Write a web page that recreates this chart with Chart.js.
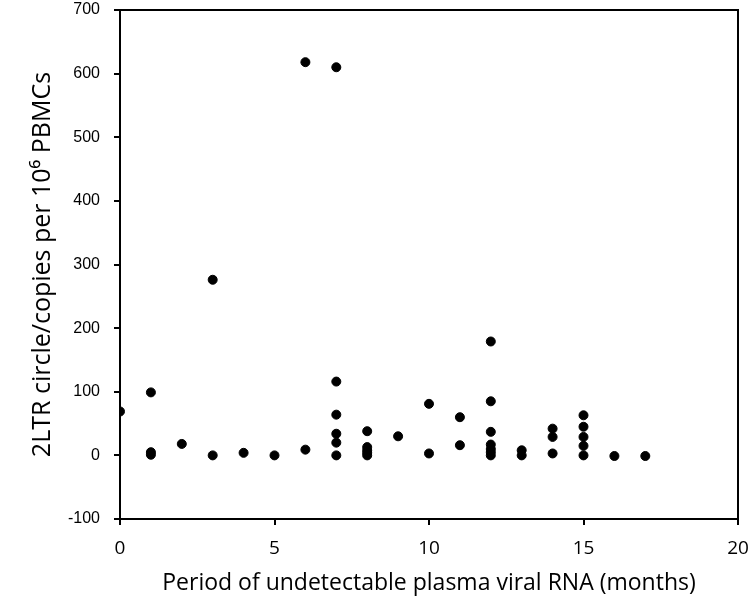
<!DOCTYPE html>
<html>
<head>
<meta charset="utf-8">
<script src="https://cdn.jsdelivr.net/npm/chart.js@4"></script>
<style>
  html, body { margin: 0; padding: 0; background: #fff; }
  #wrap { width: 750px; height: 606px; }
</style>
</head>
<body>
<div id="wrap"><canvas id="chart"></canvas></div>
<script>
// months of undetectable viral RNA, and 2LTR copies per 10^6 PBMCs
const months = [0, 1, 1, 1, 2, 3, 3, 4, 5, 6, 6,
    7, 7, 7, 7, 7, 7, 8, 8, 8, 8, 8, 9, 10, 10, 11, 11,
    12, 12, 12, 12, 12, 12, 12, 13, 13, 14, 14, 14,
    15, 15, 15, 15, 15, 16, 17];
const copies = [69, 99, 5, 1, 18, 276, 0, 4, 0, 618, 9,
    610, 116, 64, 34, 20, 0, 38, 13, 8, 4, 0, 30, 81, 3, 60, 16,
    179, 85, 37, 17, 10, 5, 0, 8, 0, 42, 29, 3,
    63, 45, 29, 15, 0, -1, -1];
const xTicks = [0, 5, 10, 15, 20];
const yTicks = [-100, 0, 100, 200, 300, 400, 500, 600, 700];

const points = months.map((m, i) => ({ x: m, y: copies[i] }));

const frame = {
    id: 'frame',
    afterDraw(chart) {
        const a = chart.chartArea;
        const c = chart.ctx;
        c.save();
        c.strokeStyle = '#000';
        c.lineWidth = 2;
        c.strokeRect(a.left, a.top, a.right - a.left, a.bottom - a.top);
        c.restore();
    }
};

const sans = "'Open Sans', 'Noto Sans', sans-serif";

new Chart(document.getElementById('chart').getContext('2d'), {
    type: 'scatter',
    data: {
        datasets: [{
            data: points,
            backgroundColor: '#000',
            borderColor: '#000',
            pointRadius: 4.5,
            pointHoverRadius: 4.5
        }]
    },
    options: {
        responsive: true,
        maintainAspectRatio: false,
        animation: false,
        layout: { padding: { top: 10, right: 12, left: 0, bottom: 0 } },
        plugins: { legend: { display: false }, tooltip: { enabled: false } },
        scales: {
            x: {
                type: 'linear',
                min: 0, max: 20,
                afterBuildTicks: s => { s.ticks = xTicks.map(v => ({ value: v })); },
                afterFit: s => { s.height = 87; s.paddingLeft = 0; s.paddingRight = 0; },
                ticks: {
                    color: '#000',
                    padding: 12,
                    font: { family: sans, size: 19 }
                },
                grid: { drawOnChartArea: false, drawTicks: true, tickLength: 6, color: '#000', lineWidth: 2 },
                border: { display: true, color: '#000', width: 2 },
                title: {
                    display: true,
                    text: 'Period of undetectable plasma viral RNA (months)',
                    color: '#000',
                    font: { family: sans, size: 23 },
                    padding: { top: 0, bottom: 9 }
                }
            },
            y: {
                type: 'linear',
                min: -100, max: 700,
                afterBuildTicks: s => { s.ticks = yTicks.map(v => ({ value: v })); },
                afterFit: s => { s.width = 120; s.paddingTop = 0; s.paddingBottom = 0; },
                ticks: {
                    color: '#000',
                    padding: 14,
                    font: { family: "'Liberation Sans', Arial, sans-serif", size: 16 }
                },
                grid: { drawOnChartArea: false, drawTicks: true, tickLength: 6, color: '#000', lineWidth: 2 },
                border: { display: true, color: '#000', width: 2 },
                title: {
                    display: true,
                    text: '2LTR circle/copies per 10\u2076 PBMCs',
                    color: '#000',
                    font: { family: sans, size: 25 },
                    padding: { top: 28, bottom: 0 }
                }
            }
        }
    },
    plugins: [frame]
});
</script>
</body>
</html>
